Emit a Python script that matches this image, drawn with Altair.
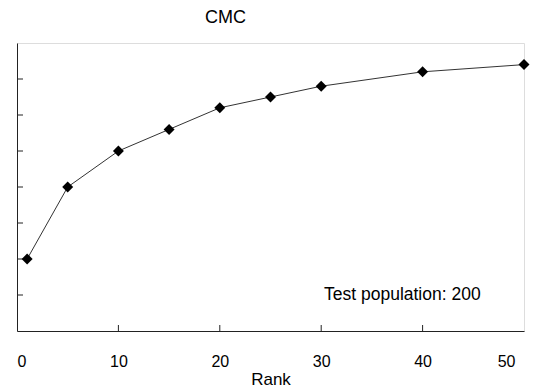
import altair as alt
import pandas as pd

ranks = [1, 5, 10, 15, 20, 25, 30, 40, 50]
rates = [0.40, 0.60, 0.70, 0.76, 0.82, 0.85, 0.88, 0.92, 0.94]
y_ticks = [0.3, 0.4, 0.5, 0.6, 0.7, 0.8, 0.9]
x_ticks = [10, 20, 30, 40]
x_labels = [0, 10, 20, 30, 40, 50]
note_text = ["Test population: 200"]
note_x = [38]
note_y = [0.3]

FONT = "Liberation Sans"

df = pd.DataFrame({"rank": ranks, "rate": rates})
yt = pd.DataFrame({"v": y_ticks})
xt = pd.DataFrame({"v": x_ticks})
note = pd.DataFrame({"t": note_text, "x": note_x, "y": note_y})

xscale = alt.Scale(domain=[0, 50], nice=False, zero=False)
yscale = alt.Scale(domain=[0.2, 1.0], nice=False, zero=False)

xaxis = alt.Axis(values=x_labels, ticks=False, grid=False, domain=True, domainColor="#222",
                 labelFont=FONT, labelFontSize=16, labelColor="#000", labelPadding=22,
                 labelOffset=alt.expr("datum.value == 50 ? -9 : 0"),
                 title="Rank", titleFont=FONT, titleFontSize=17, titleFontWeight="normal",
                 titleColor="#000", titlePadding=2)
yaxis = alt.Axis(labels=False, ticks=False, grid=False, domain=True, domainColor="#222",
                 title=None, minExtent=0, maxExtent=0)

line = alt.Chart(df).mark_line(color="#333", strokeWidth=1).encode(
    x=alt.X("rank:Q", scale=xscale, axis=xaxis),
    y=alt.Y("rate:Q", scale=yscale, axis=yaxis),
)
pts = alt.Chart(df).mark_point(shape="diamond", filled=True, color="#000", size=120, opacity=1).encode(
    x=alt.X("rank:Q", scale=xscale, axis=xaxis),
    y=alt.Y("rate:Q", scale=yscale, axis=yaxis),
)
yrules = alt.Chart(yt).mark_rule(color="#222", strokeWidth=1).encode(
    y=alt.Y("v:Q", scale=yscale, axis=yaxis),
    x=alt.value(0), x2=alt.value(6),
)
xrules = alt.Chart(xt).mark_rule(color="#222", strokeWidth=1).encode(
    x=alt.X("v:Q", scale=xscale, axis=xaxis),
    y=alt.value(288), y2=alt.value(282),
)
txt = alt.Chart(note).mark_text(font=FONT, fontSize=17.5, color="#000", align="center", baseline="middle").encode(
    x=alt.X("x:Q", scale=xscale, axis=xaxis),
    y=alt.Y("y:Q", scale=yscale, axis=yaxis),
    text="t:N",
)

chart = alt.layer(yrules, xrules, line, pts, txt).properties(
    width=507, height=288,
    title=alt.TitleParams("CMC", font=FONT, fontSize=18, fontWeight="normal", color="#000",
                          dx=-45, offset=16),
    autosize=alt.AutoSizeParams(type="none"),
    padding={"left": 17, "top": 43, "right": 16, "bottom": 61},
).configure_view(stroke="#888", strokeWidth=1).configure(background="white")

chart.save("out.html", embed_options={"renderer": "svg", "actions": False})
